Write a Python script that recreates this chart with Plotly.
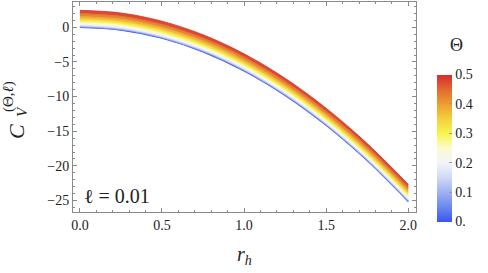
import plotly.graph_objects as go
from plotly.colors import sample_colorscale

# ---- data ----
r_h = [0.0, 0.25, 0.5, 0.75, 1.0, 1.25, 1.5, 1.75, 2.0]
theta_values = [0.0, 0.05, 0.1, 0.15, 0.2, 0.25, 0.3, 0.35, 0.4, 0.45, 0.5]

C_theta_000 = [0.00, -0.39, -1.57, -3.53, -6.28, -9.82, -14.14, -19.24, -25.13]
C_theta_005 = [0.02, -0.37, -1.55, -3.51, -6.26, -9.80, -14.12, -19.22, -25.11]
C_theta_010 = [0.10, -0.29, -1.47, -3.43, -6.18, -9.72, -14.04, -19.14, -25.03]
C_theta_015 = [0.22, -0.17, -1.35, -3.31, -6.06, -9.60, -13.92, -19.02, -24.91]
C_theta_020 = [0.39, 0.00, -1.18, -3.14, -5.89, -9.43, -13.75, -18.85, -24.74]
C_theta_025 = [0.61, 0.22, -0.96, -2.92, -5.67, -9.21, -13.53, -18.63, -24.52]
C_theta_030 = [0.88, 0.49, -0.69, -2.65, -5.40, -8.94, -13.26, -18.36, -24.25]
C_theta_035 = [1.20, 0.81, -0.37, -2.33, -5.08, -8.62, -12.94, -18.04, -23.93]
C_theta_040 = [1.57, 1.18, 0.00, -1.96, -4.71, -8.25, -12.57, -17.67, -23.56]
C_theta_045 = [1.98, 1.59, 0.41, -1.55, -4.30, -7.84, -12.16, -17.26, -23.15]
C_theta_050 = [2.45, 2.06, 0.88, -1.08, -3.83, -7.37, -11.69, -16.79, -22.68]

curves = [C_theta_000, C_theta_005, C_theta_010, C_theta_015, C_theta_020,
          C_theta_025, C_theta_030, C_theta_035, C_theta_040, C_theta_045,
          C_theta_050]

x_tickvals = [0.0, 0.5, 1.0, 1.5, 2.0]
x_ticktext = ["0.0", "0.5", "1.0", "1.5", "2.0"]
y_tickvals = [0, -5, -10, -15, -20, -25]
y_ticktext = ["0", "\u22125", "\u221210", "\u221215", "\u221220", "\u221225"]
cb_tickvals = [0.0, 0.1, 0.2, 0.3, 0.4, 0.5]
cb_ticktext = ["0.", "0.1", "0.2", "0.3", "0.4", "0.5"]

# ---- style ----
colorscale = [
    [0.0, "rgb(58,85,238)"],
    [0.1, "rgb(106,136,238)"],
    [0.2, "rgb(157,176,240)"],
    [0.3, "rgb(207,216,245)"],
    [0.4, "rgb(242,243,250)"],
    [0.5, "rgb(250,251,208)"],
    [0.6, "rgb(248,245,80)"],
    [0.7, "rgb(243,208,64)"],
    [0.8, "rgb(235,160,48)"],
    [0.9, "rgb(227,106,48)"],
    [1.0, "rgb(214,44,44)"],
]
TH_MAX = 0.5


def col(t):
    return sample_colorscale(colorscale, [t / TH_MAX])[0]


serif = "Liberation Serif"
frame = "#8a8a8a"
txt = "#222222"

fig = go.Figure()
for i, (th, cv) in enumerate(zip(theta_values, curves)):
    if i == 0:
        fig.add_trace(go.Scatter(x=r_h, y=cv, mode="lines",
                                 line=dict(color=col(th), width=1.4, shape="spline"),
                                 showlegend=False, hoverinfo="skip"))
    else:
        mid = 0.5 * (th + theta_values[i - 1])
        fig.add_trace(go.Scatter(x=r_h, y=cv, mode="lines",
                                 line=dict(color=col(th), width=0.8, shape="spline"),
                                 fill="tonexty", fillcolor=col(mid),
                                 showlegend=False, hoverinfo="skip"))

# colorbar carrier (invisible markers)
fig.add_trace(go.Scatter(
    x=[None, None], y=[None, None], mode="markers",
    marker=dict(size=1, opacity=0, color=[0, TH_MAX], colorscale=colorscale,
                cmin=0, cmax=TH_MAX, showscale=True,
                colorbar=dict(x=(437 - 73) / 343, xanchor="left", xpad=0,
                              thickness=15, lenmode="pixels", len=147,
                              y=(212 - 148) / 210, yanchor="middle", ypad=0,
                              outlinewidth=0, tickvals=cb_tickvals, ticktext=cb_ticktext,
                              ticks="inside", ticklen=3, tickcolor="#999",
                              tickfont=dict(family=serif, size=14, color=txt))),
    showlegend=False, hoverinfo="skip"))

axis_common = dict(showline=True, linecolor=frame, linewidth=1, mirror="ticks",
                   ticks="inside", ticklen=4, tickcolor=frame, showgrid=False,
                   zeroline=False, tickfont=dict(family=serif, size=14, color=txt))

fig.update_layout(
    width=488, height=273,
    margin=dict(l=73, r=72, t=2, b=61),
    plot_bgcolor="white", paper_bgcolor="white",
    font=dict(family=serif, color=txt),
    xaxis=dict(range=[-0.042, 2.047], tickvals=x_tickvals, ticktext=x_ticktext,
               minor=dict(dtick=0.1, ticklen=2, ticks="inside", tickcolor=frame),
               **axis_common),
    yaxis=dict(range=[-26.66, 3.65], tickvals=y_tickvals, ticktext=y_ticktext,
               minor=dict(dtick=1, ticklen=2, ticks="inside", tickcolor=frame),
               **axis_common),
    annotations=[
        dict(text="<i>r</i><sub><i>h</i></sub>", xref="paper", yref="paper",
             x=0.5, y=(212 - 255) / 210, xanchor="center", yanchor="middle",
             showarrow=False, font=dict(family=serif, size=20, color=txt)),
        dict(text="<i>C</i>", xref="paper", yref="paper", textangle=-90,
             x=(16 - 73) / 343, y=(212 - 132) / 210, xanchor="center", yanchor="middle",
             showarrow=False, font=dict(family=serif, size=22, color=txt)),
        dict(text="<i>V</i>", xref="paper", yref="paper", textangle=-90,
             x=(22 - 73) / 343, y=(212 - 112) / 210, xanchor="center", yanchor="middle",
             showarrow=False, font=dict(family=serif, size=15, color=txt)),
        dict(text="(\u0398,<i>\u2113</i>)", xref="paper", yref="paper", textangle=-90,
             x=(9 - 73) / 343, y=(212 - 97) / 210, xanchor="center", yanchor="middle",
             showarrow=False, font=dict(family=serif, size=15, color=txt)),
        dict(text="\u2113 = 0.01", xref="paper", yref="paper",
             x=(82 - 73) / 343, y=(212 - 196) / 210, xanchor="left", yanchor="middle",
             showarrow=False, font=dict(family=serif, size=20, color=txt)),
        dict(text="\u0398", xref="paper", yref="paper",
             x=(456 - 73) / 343, y=(212 - 45) / 210, xanchor="center", yanchor="middle",
             showarrow=False, font=dict(family=serif, size=18, color=txt)),
    ],
)

fig.write_html("out.html", config={"displayModeBar": False},
               post_script="document.body.style.margin='0';document.body.style.padding='0';")
